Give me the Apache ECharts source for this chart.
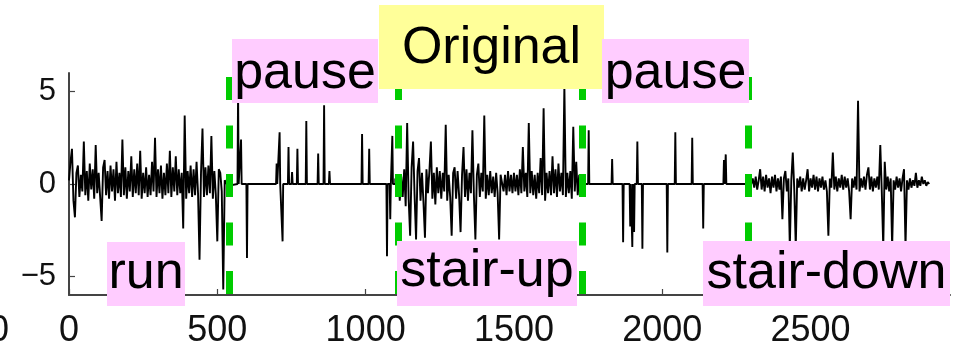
<!DOCTYPE html>
<html>
<head>
<meta charset="utf-8">
<script src="https://cdn.jsdelivr.net/npm/echarts@6/dist/echarts.min.js"></script>
<style>
  html, body { margin: 0; padding: 0; background: #fff; }
  #chart { width: 972px; height: 350px; }
</style>
</head>
<body>
<div id="chart"></div>
<script>
// Accelerometer trace: activities separated by pauses
const sampleStep = 5;

// run: samples from x = 0, every 5
const runStart = 0;
const runValues = [
  0.2, 1.2, 1.9, -0.9, -1.8, 0.6, 1.0, -0.7, 0.5, -0.4,
  2.3, -0.6, 0.7, -0.9, 1.1, -0.3, 0.8, -0.8, 2.1, -0.5,
  0.6, -0.7, -2.0, 0.9, 1.3, -0.6, 0.7, -0.8, 1.0, -0.4,
  0.8, -0.9, 1.2, -0.5, 0.6, -0.7, 2.4, -0.6, 0.9, -0.8,
  0.7, -0.4, 1.5, -0.7, 0.8, -0.5, 1.1, -0.6, 1.8, -0.8,
  0.6, -0.5, 0.9, -0.7, 0.5, -0.6, 1.2, -0.4, 2.5, -0.7,
  0.8, -0.5, 1.0, -0.8, 0.6, -0.6, 1.1, -0.5, 1.8, -0.7,
  0.9, -0.4, 1.5, -0.6, 0.8, -0.5, 0.6, -2.4, 3.7, -0.8,
  0.7, -0.5, 1.0, -0.7, 0.8, -0.6, 1.2, -0.5, -4.1, 0.6,
  3.0, -0.7, 0.9, -0.6, 1.0, -0.5, 2.6, -0.8, 0.7, -0.6,
  -3.1, 0.8, 0.6, -0.4, -5.7, 0.2, 0.3, -0.1, 0.0
];

// first pause: flat with isolated spikes
const pause1Range = [540, 1100];
const pause1SpikeX = [570, 580, 600, 700, 710, 720, 740, 752, 770, 800, 840, 860, 878, 988, 1012, 1072, 1083, 1090];
const pause1SpikeY = [5.0, 2.4, -4.0, 1.1, 2.8, -3.1, 2.0, 0.65, 1.9, 3.4, 1.65, 4.25, 0.7, 2.7, 1.9, -3.9, -1.9, 2.6];

// stair-up: samples from x = 1100, every 5
const stairUpStart = 1100;
const stairUpValues = [
  0.3, -0.6, 0.5, -0.9, 0.4, -0.7, 0.8, -1.2, 3.3, -0.8,
  -2.8, 0.9, 2.3, -0.6, -3.0, 0.7, 1.4, -0.9, 0.6, -1.0,
  -2.9, 0.8, -0.5, 0.7, 2.3, -0.8, 0.6, -1.1, 0.9, -0.5,
  0.7, -0.8, 0.6, -0.4, 3.2, -0.9, 0.5, -0.7, -2.8, 0.6,
  0.9, -0.8, 0.7, -0.6, -2.6, 0.5, 2.0, -0.7, 0.8, -0.9,
  0.6, -0.5, 2.9, -0.6, -3.0, 0.5, 1.1, -0.7, 0.6, -0.4,
  3.7, -0.8, 0.5, -0.6, 0.7, -0.5, 0.4, -0.7, 0.6, -0.5,
  -3.0, 0.5, 0.6, -0.4, 0.5, -0.6, 0.7, -0.4, 0.5, -0.5,
  0.6, -0.4, 0.5, -0.6, 0.8, -0.5, 2.0, -0.4, 0.6, -0.7,
  3.3, -0.5, 0.7, -0.6, 0.5, -0.8, 0.6, -0.5, 1.4, -0.6,
  4.1, -0.9, 0.6, -0.5, 0.7, -0.6, 1.5, -0.5, 0.8, -0.7,
  1.1, -0.4, 0.6, -0.6, 5.3, -0.7, 0.6, -0.5, 0.7, -0.8,
  3.1, -0.4, 1.2, -0.6, 0.5, -0.7, 0.4, -0.3, 0.0
];

// second pause
const pause2Range = [1740, 2300];
const pause2SpikeX = [1752, 1831, 1868, 1892, 1899, 1905, 1916, 1933, 2017, 2044, 2101, 2138, 2208, 2214];
const pause2SpikeY = [2.9, 1.35, -3.15, -2.3, -3.4, -2.6, 2.3, -3.5, -3.7, 2.8, 2.5, -2.4, 1.3, 1.6];

// stair-down: samples from x = 2300, every 5
const stairDownStart = 2300;
const stairDownValues = [
  0.0, 0.3, -0.2, 0.4, -0.3, 0.2, 0.8, -0.3, 0.4, -0.4,
  0.5, -0.2, 0.3, -0.5, 0.4, -0.2, 0.5, -0.4, 0.3, -0.3,
  0.4, -1.9, 0.3, 0.7, -0.4, 0.3, -3.4, 0.2, 1.7, -0.3,
  -3.4, 0.3, -0.2, 0.4, -0.4, 0.3, -0.3, 0.2, 0.8, -0.4,
  0.3, -0.2, 0.5, -0.3, 0.4, -0.4, 0.3, -0.2, 0.4, -0.3,
  0.2, -0.4, -2.8, 0.3, -0.2, 1.7, -0.3, 0.4, -0.4, 0.3,
  -0.2, 0.5, -0.3, 0.4, -0.2, 0.3, -0.4, -1.9, 0.3, -0.2,
  0.4, -0.3, 4.5, -0.4, 0.3, -0.2, 0.4, -0.3, 0.5, 0.9,
  -0.3, 0.4, -0.4, 0.3, -0.2, 0.4, -0.3, 2.1, -0.4, -3.4,
  1.2, -0.3, 0.4, -0.4, 0.3, -3.4, 0.2, -0.3, 0.4, -0.2,
  0.3, -0.4, 0.3, 0.8, -3.4, 0.2, -0.3, 0.3, -0.2, 0.2,
  -0.1, 0.6, -0.2, 0.2, -0.1, 0.4, 0.0, 0.2, -0.1, 0.1,
  0.0
];

// segment boundaries (dashed green markers)
const boundaries = [540, 1110, 1730, 2290];

// axis ticks
const xTicks = [0, 500, 1000, 1500, 2000, 2500];
const yTicks = [-5, 0, 5];

function sampled(start, values) {
  return values.map((v, i) => [start + i * sampleStep, v]);
}
function spiky(range, xs, ys) {
  const out = [[range[0], 0]];
  xs.forEach((x, i) => {
    out.push([x - 2, 0], [x, ys[i]], [x + 2, 0]);
  });
  out.push([range[1], 0]);
  return out;
}

const trace = [].concat(
  sampled(runStart, runValues),
  spiky(pause1Range, pause1SpikeX, pause1SpikeY),
  sampled(stairUpStart, stairUpValues),
  spiky(pause2Range, pause2SpikeX, pause2SpikeY),
  sampled(stairDownStart, stairDownValues)
);

const labelFont = '52px "Liberation Sans", Arial, sans-serif';
const pink = '#ffccff';
const yellow = '#ffff99';

function tag(text, x0, x1, y0, y1, baseline, color) {
  return {
    type: 'group',
    z: 100,
    children: [
      { type: 'rect', shape: { x: x0, y: y0, width: x1 - x0, height: y1 - y0 },
        style: { fill: color }, z: 100 },
      { type: 'text', z: 101,
        style: { text: text, x: (x0 + x1) / 2, y: baseline - 18, font: labelFont,
                 fill: '#000', align: 'center', verticalAlign: 'middle' } }
    ]
  };
}

const chart = echarts.init(document.getElementById('chart'), null, { renderer: 'canvas' });
chart.setOption({
  animation: false,
  backgroundColor: '#fff',
  grid: { left: 69, right: 22, top: 73, bottom: 55, containLabel: false },
  xAxis: {
    type: 'value', min: 0, max: 2970, interval: 500,
    splitLine: { show: false },
    axisLine: { show: true, onZero: false, lineStyle: { color: '#444', width: 2 } },
    axisTick: { show: true, inside: true, length: 6, customValues: xTicks,
                lineStyle: { color: '#444', width: 1.2 } },
    axisLabel: { customValues: xTicks, margin: 18,
                 fontFamily: '"Liberation Sans Narrow", "Liberation Sans", sans-serif',
                 fontSize: 36, color: '#111',
                 formatter: v => (v % 500 === 0 ? String(v) : '') }
  },
  yAxis: {
    type: 'value', min: -6, max: 6,
    splitLine: { show: false },
    axisLine: { show: true, onZero: false, lineStyle: { color: '#444', width: 2 } },
    axisTick: { show: true, inside: true, length: 6, customValues: yTicks,
                lineStyle: { color: '#444', width: 1.2 } },
    axisLabel: { customValues: yTicks, margin: 13,
                 fontFamily: '"Liberation Sans Narrow", "Liberation Sans", sans-serif',
                 fontSize: 31, color: '#111',
                 formatter: v => (v < 0 ? '\u2212' + Math.abs(v) : String(v)) }
  },
  series: [{
    type: 'line',
    data: trace,
    showSymbol: false,
    symbol: 'none',
    lineStyle: { color: '#000', width: 1.9 },
    z: 2,
    markLine: {
      silent: true,
      symbol: ['none', 'none'],
      label: { show: false },
      lineStyle: { color: '#00cc00', width: 7, type: [23, 25.5], dashOffset: 44.5, opacity: 1 },
      emphasis: { disabled: true },
      data: boundaries.map(b => [{ coord: [b, 6] }, { coord: [b, -6] }])
    }
  }],
  graphic: [
    { type: 'text', z: 50,
      style: { text: '0', x: 9, y: 331, align: 'right', verticalAlign: 'middle',
               font: '36px "Liberation Sans Narrow", sans-serif', fill: '#111' } },
    tag('pause', 232, 378, 39, 103, 92, pink),
    tag('Original', 379, 604, 5, 89, 67, yellow),
    tag('pause', 602, 749, 39, 103, 92, pink),
    tag('run', 107, 185, 242, 306, 292, pink),
    tag('stair-up', 397, 577, 241, 306, 290, pink),
    tag('stair-down', 703, 950, 241, 306, 292, pink)
  ]
});
</script>
</body>
</html>
